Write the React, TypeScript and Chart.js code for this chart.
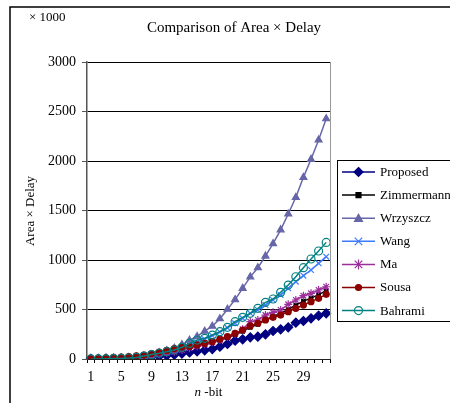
import React, { useEffect, useRef } from "react";
import { Chart, registerables } from "chart.js";

Chart.register(...registerables);

const nBits = [1,2,3,4,5,6,7,8,9,10,11,12,13,14,15,16,17,18,19,20,21,22,23,24,25,26,27,28,29,30,31,32];
const proposed = [1,2,3,4,6,8,11,15,20,27,35,43,55,66,78,88,100,125,152,185,199,219,226,249,283,300,320,367,384,411,438,461];
const zimmermann = [2,4,6,9,13,18,24,32,42,54,68,84,100,115,130,148,168,190,215,245,280,320,350,395,430,460,500,545,585,615,650,690];
const wrzyszcz = [0.5,1.5,3,5,8,13,20,30,44,62,85,110,145,190,228,281,331,407,503,600,714,830,922,1040,1165,1305,1465,1633,1835,2017,2212,2427];
const wang = [0.5,1,2,4,7,12,19,28,40,55,72,92,115,142,170,200,235,272,315,360,411,461,495,545,596,646,714,781,842,899,966,1034];
const ma = [1,2,3,5,8,12,18,25,34,45,58,72,90,108,128,148,170,195,222,255,300,377,394,444,471,495,552,596,640,663,697,730];
const sousa = [5,8,12,16,20,25,32,40,55,70,88,105,118,128,142,158,176,200,226,258,293,336,360,394,421,444,478,512,545,579,613,653];
const bahrami = [0.5,1,2,4,6,10,16,30,45,58,74,91,118,158,192,209,242,276,320,377,421,461,512,572,606,673,747,831,922,1010,1091,1178];
const yTicks = [0, 500, 1000, 1500, 2000, 2500, 3000];

const FONT = "'Liberation Serif', 'Times New Roman', serif";

type SeriesDef = { label: string; data: number[]; color: string; shape: string; radius: number; fill: string };
const series: SeriesDef[] = [
  { label: "Proposed", data: proposed, color: "#000080", shape: "rectRot", radius: 4.5, fill: "#000080" },
  { label: "Zimmermann", data: zimmermann, color: "#000000", shape: "rect", radius: 2.5, fill: "#000000" },
  { label: "Wrzyszcz", data: wrzyszcz, color: "#6666a8", shape: "triangle", radius: 4, fill: "#6666a8" },
  { label: "Wang", data: wang, color: "#3d7bff", shape: "crossRot", radius: 5, fill: "#3d7bff" },
  { label: "Ma", data: ma, color: "#9b309b", shape: "star", radius: 5, fill: "#9b309b" },
  { label: "Sousa", data: sousa, color: "#8b0000", shape: "circle", radius: 3, fill: "#8b0000" },
  { label: "Bahrami", data: bahrami, color: "#008080", shape: "circle", radius: 4, fill: "rgba(0,0,0,0)" },
];

function drawMarker(ctx: CanvasRenderingContext2D, s: SeriesDef, x: number, y: number) {
  const r = s.radius;
  ctx.save();
  ctx.strokeStyle = s.color;
  ctx.fillStyle = s.fill;
  ctx.lineWidth = 1.2;
  ctx.beginPath();
  if (s.shape === "rectRot") {
    ctx.moveTo(x, y - r); ctx.lineTo(x + r, y); ctx.lineTo(x, y + r); ctx.lineTo(x - r, y); ctx.closePath();
    ctx.fill(); ctx.stroke();
  } else if (s.shape === "rect") {
    ctx.rect(x - r, y - r, 2 * r, 2 * r); ctx.fill(); ctx.stroke();
  } else if (s.shape === "triangle") {
    ctx.moveTo(x, y - r); ctx.lineTo(x + r, y + r * 0.8); ctx.lineTo(x - r, y + r * 0.8); ctx.closePath();
    ctx.fill(); ctx.stroke();
  } else if (s.shape === "crossRot") {
    const d = r * 0.75;
    ctx.moveTo(x - d, y - d); ctx.lineTo(x + d, y + d); ctx.moveTo(x + d, y - d); ctx.lineTo(x - d, y + d); ctx.stroke();
  } else if (s.shape === "star") {
    const d = r * 0.75;
    ctx.moveTo(x - d, y - d); ctx.lineTo(x + d, y + d); ctx.moveTo(x + d, y - d); ctx.lineTo(x - d, y + d);
    ctx.moveTo(x, y - r); ctx.lineTo(x, y + r); ctx.stroke();
  } else {
    ctx.arc(x, y, r, 0, Math.PI * 2);
    ctx.fill(); ctx.stroke();
  }
  ctx.restore();
}

const decorPlugin = {
  id: "decor",
  afterDraw(chart: any) {
    const ctx: CanvasRenderingContext2D = chart.ctx;
    const a = chart.chartArea;
    ctx.save();
    ctx.strokeStyle = "#000";
    ctx.lineWidth = 1.5;
    ctx.beginPath();
    ctx.moveTo(10, 403); ctx.lineTo(10, 7); ctx.lineTo(450, 7);
    ctx.stroke();
    ctx.strokeStyle = "#999";
    ctx.lineWidth = 1;
    ctx.beginPath();
    ctx.moveTo(a.right + 0.5, a.top); ctx.lineTo(a.right + 0.5, a.bottom);
    ctx.stroke();
    ctx.fillStyle = "#000";
    ctx.textBaseline = "middle";
    ctx.textAlign = "center";
    ctx.font = `15px ${FONT}`;
    ctx.fillText("Comparison of Area \u00d7 Delay", 234, 28);
    ctx.textAlign = "left";
    ctx.font = `13px ${FONT}`;
    ctx.fillText("\u00d7 1000", 29, 18);
    ctx.save();
    ctx.translate(31, 211);
    ctx.rotate(-Math.PI / 2);
    ctx.textAlign = "center";
    ctx.font = `13px ${FONT}`;
    ctx.fillText("Area \u00d7 Delay", 0, 0);
    ctx.restore();
    ctx.font = `italic 13px ${FONT}`;
    const w1 = ctx.measureText("n").width;
    ctx.font = `13px ${FONT}`;
    const w2 = ctx.measureText(" -bit").width;
    const xs = (a.left + a.right) / 2 - (w1 + w2) / 2;
    ctx.textAlign = "left";
    ctx.font = `italic 13px ${FONT}`;
    ctx.fillText("n", xs, 393);
    ctx.font = `13px ${FONT}`;
    ctx.fillText(" -bit", xs + w1, 393);
    ctx.strokeStyle = "#000";
    ctx.lineWidth = 1;
    ctx.strokeRect(337.5, 160.5, 130, 161);
    ctx.font = `13px ${FONT}`;
    series.forEach((s, i) => {
      const y = 172 + i * 23.1;
      ctx.strokeStyle = s.color;
      ctx.lineWidth = 1.5;
      ctx.beginPath();
      ctx.moveTo(342, y); ctx.lineTo(375, y);
      ctx.stroke();
      drawMarker(ctx, s, 358.5, y);
      ctx.fillStyle = "#000";
      ctx.textAlign = "left";
      ctx.fillText(s.label, 380, y + 0.5);
    });
    ctx.restore();
  },
};

export default function App() {
  const ref = useRef<HTMLCanvasElement | null>(null);
  useEffect(() => {
    document.body.style.margin = "0";
    const canvas = ref.current!;
    const chart = new Chart(canvas, {
      type: "line",
      data: {
        labels: nBits.map(String),
        datasets: series.map((s, i) => ({
          label: s.label,
          data: s.data,
          borderColor: s.color,
          backgroundColor: s.fill,
          pointBorderColor: s.color,
          pointBackgroundColor: s.fill,
          pointStyle: s.shape as any,
          pointRadius: s.shape === "crossRot" || s.shape === "star" ? 4 : s.radius,
          pointBorderWidth: 1.2,
          borderWidth: 1.5,
          tension: 0,
          fill: false,
          order: series.length - i,
        })),
      },
      options: {
        responsive: false,
        animation: false,
        events: [],
        layout: { padding: { left: 0, top: 62, right: 120, bottom: 0 } },
        plugins: { legend: { display: false }, title: { display: false }, tooltip: { enabled: false } },
        scales: {
          x: {
            type: "category",
            offset: true,
            grid: { display: true, offset: true, drawOnChartArea: false, drawTicks: true, tickLength: 4, color: "#000", tickColor: "#000" },
            border: { display: true, color: "#222", width: 1 },
            ticks: {
              autoSkip: false,
              maxRotation: 0,
              padding: 6,
              color: "#000",
              font: { family: FONT, size: 14 },
              callback: (_v: any, idx: number) => (idx % 4 === 0 ? String(nBits[idx]) : ""),
            },
            afterFit: (scale: any) => { scale.height = 44; },
          },
          y: {
            min: 0,
            max: 3000,
            afterBuildTicks: (scale: any) => { scale.ticks = yTicks.map((v) => ({ value: v })); },
            grid: { color: "#000", lineWidth: 1, tickLength: 5, tickColor: "#555" },
            border: { display: true, color: "#555", width: 1.5 },
            ticks: { padding: 6, color: "#000", font: { family: FONT, size: 14 }, callback: (v: any) => String(v) },
            afterFit: (scale: any) => { scale.width = 87; },
          },
        },
      },
      plugins: [decorPlugin],
    });
    return () => chart.destroy();
  }, []);
  return (
    <div style={{ position: "absolute", left: 0, top: 0, width: 450, height: 403 }}>
      <canvas ref={ref} width={450} height={403} style={{ width: 450, height: 403, display: "block" }} />
    </div>
  );
}
